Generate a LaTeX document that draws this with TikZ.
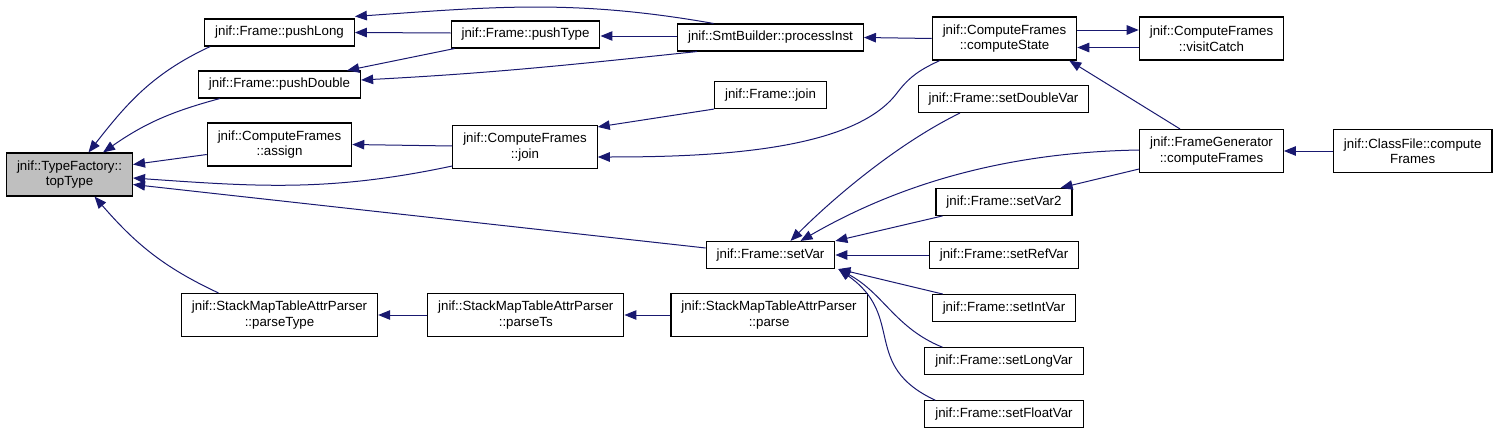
\documentclass[tikz,border=0pt]{standalone}
\usepackage{fontspec}
\setmainfont{Liberation Sans}
\usepackage{xcolor}
\usepackage{tikz}
\usetikzlibrary{arrows.meta, positioning}

\definecolor{edgeblue}{HTML}{191970}
\definecolor{focusgray}{HTML}{BFBFBF}

\begin{document}
\begin{tikzpicture}[
  x=1pt, y=-1pt,
  node distance=25pt and 49pt,
  fn/.style={rectangle, draw=black, line width=1.1pt, fill=white,
    inner xsep=10.5pt, inner ysep=0pt, align=center,
    font=\fontsize{13.3}{15.5}\selectfont, minimum height=27pt},
  fntwo/.style={fn, minimum height=43pt},
  focus/.style={fntwo, fill=focusgray},
  arr/.style={-{Triangle[length=12pt, width=9.5pt]}, line width=1pt, edgeblue}
]
\useasboundingbox (0,0) rectangle (1499,431);

\node[focus] (topType) at (69.5,174.5) {jnif::TypeFactory::\\topType};
\node[fn] (pushLong) at (279.5,32.5) {jnif::Frame::pushLong};
\node[fn] (pushDouble) at (279.5,84.5) {jnif::Frame::pushDouble};
\node[fntwo] (assign) at (279.5,144.5) {jnif::ComputeFrames\\::assign};
\node[fntwo] (parseType) at (279.5,315) {jnif::StackMapTableAttrParser\\::parseType};
\node[fn] (pushType) at (525.5,34.5) {jnif::Frame::pushType};
\node[fntwo] (cfJoin) at (525,147) {jnif::ComputeFrames\\::join};
\node[fntwo, right=of parseType] (parseTs) {jnif::StackMapTableAttrParser\\::parseTs};
\node[fn] (processInst) at (770.5,37.5) {jnif::SmtBuilder::processInst};
\node[fn] (frameJoin) at (770.5,95) {jnif::Frame::join};
\node[fn] (setVar) at (770.5,255) {jnif::Frame::setVar};
\node[fntwo, right=46pt of parseTs] (parse) {jnif::StackMapTableAttrParser\\::parse};
\node[fntwo] (computeState) at (1004.5,38.5) {jnif::ComputeFrames\\::computeState};
\node[fn] (setDoubleVar) at (1003.5,99) {jnif::Frame::setDoubleVar};
\node[fn] (setRefVar) at (1004,255) {jnif::Frame::setRefVar};
\node[fn, above=of setRefVar] (setVar2) {jnif::Frame::setVar2};
\node[fn, below=of setRefVar] (setIntVar) {jnif::Frame::setIntVar};
\node[fn, below=of setIntVar] (setLongVar) {jnif::Frame::setLongVar};
\node[fn, below=of setLongVar] (setFloatVar) {jnif::Frame::setFloatVar};
\node[fntwo] (visitCatch) at (1211.5,38.5) {jnif::ComputeFrames\\::visitCatch};
\node[fntwo] (frameGen) at (1211.5,151) {jnif::FrameGenerator\\::computeFrames};
\node[fntwo, right=of frameGen] (classFile) {jnif::ClassFile::compute\\Frames};
\coordinate (csBend) at (897,93);

\draw[arr] ([xshift=6pt]pushLong.south west) to[out=205, in=52] ([xshift=19pt]topType.north);
\draw[arr] ([xshift=22pt]pushDouble.south west) to[out=195, in=35] ([xshift=-30pt]topType.north east);
\draw[arr] ([yshift=-10pt]assign.west) -- ([yshift=10pt]topType.east);
\draw[arr] ([yshift=-19pt]cfJoin.west) to[out=192, in=-4] ([yshift=-3.5pt]topType.east);
\draw[arr] ([yshift=7pt]setVar.west) -- ([yshift=-10pt]topType.east);
\draw[arr] ([xshift=-61pt]parseType.north) to[out=155, in=-49] ([xshift=25pt]topType.south);
\draw[arr] ([yshift=1.5pt]pushType.west) -- (pushLong.east);
\draw[arr] ([xshift=-57pt]processInst.north) to[out=170, in=4] ([yshift=2pt]pushLong.north east);
\draw[arr] ([xshift=4pt]pushType.south west) -- ([xshift=-14pt]pushDouble.north east);
\draw[arr] ([xshift=-73.5pt]processInst.south) to[out=186, in=3] ([yshift=4.5pt]pushDouble.east);
\draw[arr] ([yshift=1.5pt]processInst.west) -- ([yshift=-1.5pt]pushType.east);
\draw[arr] (computeState.west) -- (processInst.east);
\draw[arr] ([yshift=1pt]cfJoin.west) -- (assign.east);
\draw[arr] (frameJoin.south west) -- ([yshift=-2pt]cfJoin.north east);
\draw[arr] ([xshift=8pt]computeState.south west) to[out=205, in=53] (csBend)
  to[out=233, in=0, out looseness=0.6] ([yshift=-10pt]cfJoin.east);
\draw[arr] ([yshift=8.5pt]computeState.east) -- ([yshift=8.5pt]visitCatch.west);
\draw[arr] ([yshift=-9pt]visitCatch.west) -- ([yshift=-9pt]computeState.east);
\draw[arr] ([xshift=-31.5pt]frameGen.north) -- ([xshift=-8pt]computeState.south east);
\draw[arr] (classFile.west) -- (frameGen.east);
\draw[arr] ([xshift=-43.5pt]setDoubleVar.south) to[out=206, in=45, looseness=0.8] ([xshift=20pt]setVar.north);
\draw[arr] ([yshift=1pt]frameGen.west) to[out=181, in=30, looseness=0.9] ([xshift=30pt]setVar.north);
\draw[arr] ([xshift=7pt]setVar2.south west) -- (setVar.north east);
\draw[arr] ([yshift=-18pt]frameGen.west) -- ([xshift=-12pt]setVar2.north east);
\draw[arr] (setRefVar.west) -- (setVar.east);
\draw[arr] ([xshift=11pt]setIntVar.north west) -- ([xshift=3pt]setVar.south east);
\draw[arr] ([xshift=18pt]setLongVar.north west) to[out=158, in=-28] ([xshift=3pt]setVar.south east);
\draw[arr] ([xshift=11pt]setFloatVar.north west) to[out=155, in=-35, looseness=1.3] ([xshift=3pt]setVar.south east);
\draw[arr] (parseTs.west) -- (parseType.east);
\draw[arr] (parse.west) -- (parseTs.east);
\end{tikzpicture}
\end{document}
